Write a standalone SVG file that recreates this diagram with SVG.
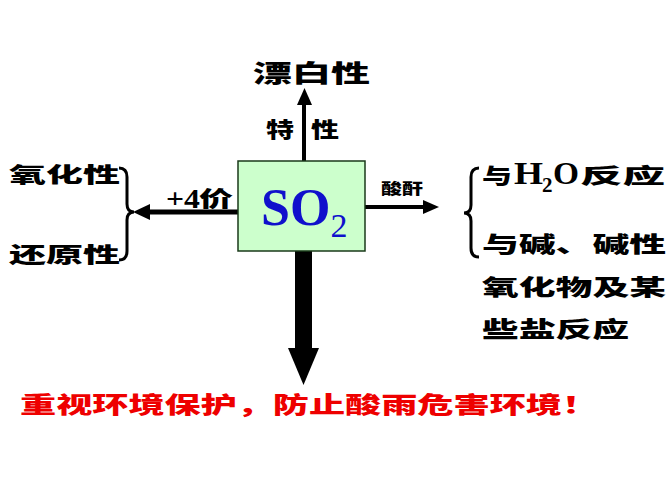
<svg xmlns="http://www.w3.org/2000/svg" width="667" height="500" viewBox="0 0 667 500">
<style>
.cn{font-family:"Noto Sans CJK SC","Noto Sans CJK TC",sans-serif;font-weight:900;fill:#000}
.tm{font-family:"Liberation Serif","Times New Roman",serif;font-weight:bold;fill:#000}
.red{fill:#ee0000}
</style>
<rect width="667" height="500" fill="#fff"/>
<g id="connectors" stroke="#000" fill="none">
<line x1="304" y1="161" x2="304" y2="104" stroke-width="4"/>
<polygon points="297,105 312,105 304.5,88" fill="#000" stroke="none"/>
<line x1="238" y1="212" x2="148" y2="212" stroke-width="5"/>
<polygon points="150,204 150,220 133,212" fill="#000" stroke="none"/>
<line x1="365" y1="207" x2="424" y2="207" stroke-width="4"/>
<polygon points="423,200 423,214 439,207" fill="#000" stroke="none"/>
<rect x="295" y="251" width="17" height="98" fill="#000" stroke="none"/>
<polygon points="288,348 319,348 303.5,385" fill="#000" stroke="none"/>
<path d="M119,168 Q127,168 127,177 L127,204 Q127,212 134,212 Q127,212 127,220 L127,251 Q127,260 119,260" stroke-width="3"/>
<path d="M479,168 Q471,168 471,177 L471,205 Q471,213 464,213 Q471,213 471,221 L471,248 Q471,257 479,257" stroke-width="3"/>
</g>
<g id="so2">
<rect x="238" y="161" width="127" height="90" fill="#ccffcc" stroke="#1a3a1a" stroke-width="1.5"/>
<text class="tm" x="261" y="225" font-size="52" style="fill:#1010cc">SO<tspan font-size="34" dy="12" font-weight="normal">2</tspan></text>
</g>
<g id="bleach">
<text class="cn" x="253" y="82" font-size="24" textLength="117" lengthAdjust="spacingAndGlyphs">漂白性</text>
<text class="cn" x="266" y="137" font-size="21" textLength="28" lengthAdjust="spacingAndGlyphs">特</text>
<text class="cn" x="311" y="137" font-size="21" textLength="28" lengthAdjust="spacingAndGlyphs">性</text>
</g>
<g id="redox">
<text class="cn" x="9" y="182" font-size="21" textLength="111" lengthAdjust="spacingAndGlyphs">氧化性</text>
<text class="cn" x="9" y="262" font-size="21" textLength="111" lengthAdjust="spacingAndGlyphs">还原性</text>
<text class="tm" x="166" y="208" font-size="27" textLength="34" lengthAdjust="spacingAndGlyphs">+4</text>
<text class="cn" x="199" y="206" font-size="21" textLength="34" lengthAdjust="spacingAndGlyphs">价</text>
</g>
<g id="acid">
<text class="cn" x="381" y="194" font-size="15" textLength="42" lengthAdjust="spacingAndGlyphs">酸酐</text>
<text class="cn" x="482" y="183" font-size="21" textLength="30" lengthAdjust="spacingAndGlyphs">与</text>
<text class="tm" x="514" y="184" font-size="32" textLength="29" lengthAdjust="spacingAndGlyphs">H</text>
<text class="tm" x="542" y="192" font-size="21" font-weight="normal">2</text>
<text class="tm" x="553" y="184" font-size="32" textLength="26" lengthAdjust="spacingAndGlyphs">O</text>
<text class="cn" x="580" y="183" font-size="21" textLength="85" lengthAdjust="spacingAndGlyphs">反应</text>
<text class="cn" x="482" y="252" font-size="22" textLength="184" lengthAdjust="spacingAndGlyphs">与碱、碱性</text>
<text class="cn" x="482" y="295" font-size="22" textLength="184" lengthAdjust="spacingAndGlyphs">氧化物及某</text>
<text class="cn" x="482" y="337" font-size="22" textLength="147" lengthAdjust="spacingAndGlyphs">些盐反应</text>
</g>
<g id="slogan">
<text class="cn red" x="20" y="413" font-size="23" textLength="578" lengthAdjust="spacingAndGlyphs" style="fill:#ee0000">重视环境保护，防止酸雨危害环境！</text>
</g>
</svg>
